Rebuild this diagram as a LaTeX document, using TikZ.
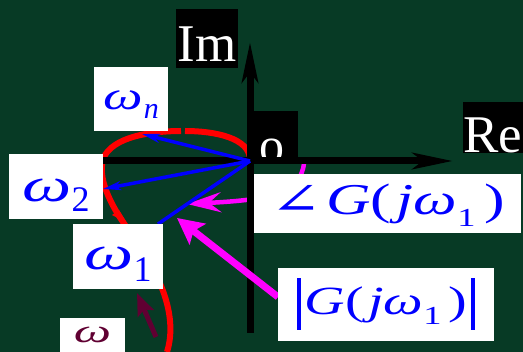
\documentclass[tikz,border=0pt]{standalone}
\usepackage{fontspec}
\setmainfont{Liberation Serif}
\newfontfamily\djs{DejaVu Serif}
\usetikzlibrary{arrows.meta}
\definecolor{bg}{RGB}{7,58,37}
\definecolor{wred}{RGB}{255,0,0}
\definecolor{wblue}{RGB}{0,0,255}
\definecolor{wmag}{RGB}{255,0,255}
\definecolor{wbrown}{RGB}{96,0,50}
\newcommand\fs[1]{\fontsize{#1}{#1}\selectfont}
\newcommand\om[2]{\scalebox{#1}[1]{\fs{#2}\itshape ω}}
\newcommand\sbs[3]{\raisebox{-#1pt}{\fs{#2}#3}}
\begin{document}
\begin{tikzpicture}[x=1pt,y=-1pt,
  lbl/.style={fill=white, inner sep=0pt, anchor=base, align=center, text=wblue},
  blk/.style={fill=black, inner sep=0pt, anchor=base, align=center, text=white},
  axisline/.style={line width=7pt, -{Stealth[length=40pt,width=16pt,inset=10pt]}},
  redcurve/.style={wred, line width=6pt},
  bline/.style={wblue, line width=3.5pt},
  barrow/.style={bline, -{Stealth[length=18pt,width=9pt,inset=5pt]}},
  magline/.style={wmag, line width=4.5pt},
]
\useasboundingbox (0,0) rectangle (523,352);
\fill[bg] (0,0) rectangle (523,352);
\clip (0,0) rectangle (523,352);

% coordinates
\coordinate (O) at (250,161);
\coordinate (pn) at (142,134);
\coordinate (p2) at (103,189);
\coordinate (p1) at (158,224);

% Nyquist curve
\draw[redcurve] (167,352) .. controls (177,320) and (165,280) .. (130,232)
  .. controls (110,205) and (95,175) .. (105,155)
  .. controls (118,134) and (160,131) .. (181,131);
\draw[redcurve] (185,131) .. controls (215,131) and (250,138) .. (250,160);
\fill[wred] (112,215) -- (119,210) -- (127,223) -- cycle;

% angle arc
\coordinate (as) at (304,163);
\coordinate (ae) at (187,204);
\draw[magline, -{Stealth[length=34pt,width=20pt,inset=12pt]}] (as) .. controls (301,195) and (265,200) .. (ae);

% origin label
\node[blk, text width=44pt, text height=46pt, text depth=0pt, font=\fs{50}] (o) at (276,157) {\hspace*{-9pt}\raisebox{-6pt}{o}};

% axes
\coordinate (imS) at (250,333);
\coordinate (imE) at (250,42);
\coordinate (reS) at (98,161);
\coordinate (reE) at (453,161);
\draw[axisline] (imS) -- (imE);
\draw[axisline] (reS) -- (reE);

% vectors
\draw[barrow] (O) -- (pn);
\draw[barrow] (O) -- (p2);
\draw[bline] (O) -- (p1);

% magnitude arrow
\coordinate (ms) at (278,297);
\coordinate (me) at (177,218);
\draw[wmag, line width=7pt, -{Stealth[length=26pt,width=26pt,inset=5pt]}] (ms) -- (me);

% omega direction arrow
\coordinate (ws) at (156,337);
\coordinate (we) at (137,293);
\draw[wbrown, line width=5pt, -{Stealth[length=22pt,width=17pt,inset=4pt]}] (ws) -- (we);

% labels
\node[blk, text width=62pt, text height=53pt, text depth=6pt, font=\fs{53}] (im) at (207,62) {Im};
\node[blk, text width=60pt, text height=51pt, text depth=0pt, font=\fs{53}] (re) at (493,153) {Re};
\node[lbl, text width=74pt, text height=43pt, text depth=21pt] (wn) at (131,110) {\om{1.4}{40}\hspace{1pt}\sbs{9}{30}{\itshape n}};
\node[lbl, text width=94pt, text height=48pt, text depth=17pt] (w2) at (56,202) {\om{1.45}{48}\sbs{10}{36}{2}};
\node[lbl, text width=90pt, text height=46pt, text depth=19pt] (w1) at (118,270) {\om{1.45}{48}\sbs{12}{36}{1}};
\node[lbl, text=wbrown, text width=65pt, text height=25pt, text depth=20pt] (w) at (92.5,343) {\om{1.6}{33}};
\node[lbl, text width=267pt, text height=41pt, text depth=18pt] (ang) at (387.5,215)
  {\scalebox{1.4}[1]{\fs{44}{\djs ∠}\hspace{3pt}\textit{G}(\hspace{4pt}\textit{j}\textit{ω}\sbs{12}{26}{1}\hspace{6pt})}};
\node[lbl, text width=216pt, text height=47pt, text depth=26pt] (mag) at (386,315)
  {\rule[-15pt]{3.5pt}{52pt}\hspace{4pt}\scalebox{1.4}[1]{\fs{40}\textit{G}(\hspace{3pt}\textit{j}\textit{ω}\sbs{10}{26}{1}\hspace{5pt})}\hspace{4pt}\rule[-15pt]{3.5pt}{52pt}};
\end{tikzpicture}
\end{document}
